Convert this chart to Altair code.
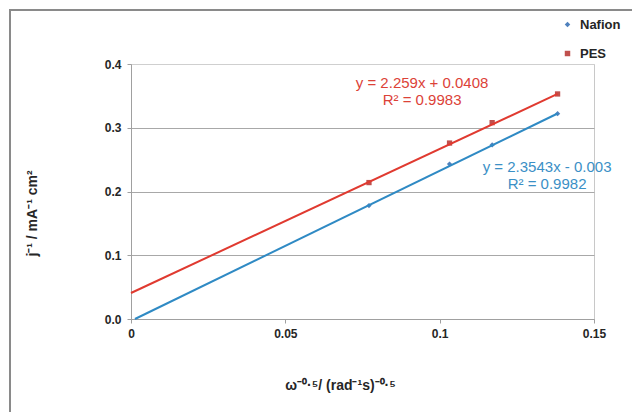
import altair as alt
import pandas as pd

# ---- data ----
series_names = ["Nafion", "PES"]
omega_inv_sqrt = [0.0771, 0.1032, 0.1170, 0.1382]
nafion_inv_j = [0.178, 0.243, 0.273, 0.322]
pes_inv_j = [0.214, 0.276, 0.308, 0.353]
fit_slope = [2.3543, 2.259]
fit_intercept = [-0.003, 0.0408]
fit_r2 = [0.9982, 0.9983]
x_ticks = [0, 0.05, 0.1, 0.15]
y_ticks = [0.0, 0.1, 0.2, 0.3, 0.4]

# ---- tables ----
points = pd.DataFrame({
    "x": omega_inv_sqrt + omega_inv_sqrt,
    "y": nafion_inv_j + pes_inv_j,
    "series": [series_names[0]] * len(nafion_inv_j) + [series_names[1]] * len(pes_inv_j),
})

trend_rows = []
for name, m, b in zip(series_names, fit_slope, fit_intercept):
    x0 = max(0.0, -b / m)
    x1 = max(omega_inv_sqrt)
    trend_rows.append({"series": name, "x": x0, "y": m * x0 + b})
    trend_rows.append({"series": name, "x": x1, "y": m * x1 + b})
trend = pd.DataFrame(trend_rows)


def eq_text(m, b):
    sign = "+" if b >= 0 else "-"
    return f"y = {m}x {sign} {abs(b)}"


# annotation anchors (data units) where the equation labels sit
label_anchor_x = {"Nafion": 0.1348, "PES": 0.0943}
label_anchor_y = {"Nafion": 0.2384, "PES": 0.370}
labels = pd.DataFrame({
    "series": series_names,
    "eq": [eq_text(m, b) for m, b in zip(fit_slope, fit_intercept)],
    "r2": [f"R\u00b2 = {r}" for r in fit_r2],
    "ax": [label_anchor_x[s] for s in series_names],
    "ay": [label_anchor_y[s] for s in series_names],
})

FONT = "Liberation Sans"
marker_colors = ["#4f81bd", "#c0504d"]
trend_colors = {"Nafion": "#2f8ac4", "PES": "#e03a30"}
text_colors = {"Nafion": "#3b90c6", "PES": "#dc4238"}

xscale = alt.Scale(domain=[0, 0.15], nice=False, zero=False)
yscale = alt.Scale(domain=[0, 0.4], nice=False, zero=False)

x_axis = alt.Axis(
    values=x_ticks, format="~g", grid=False, labelFlush=False,
    title="\u03c9\u207b\u2070\u00b7\u2075/ (rad\u207b\u00b9s)\u207b\u2070\u00b7\u2075",
    titleX=209, titleY=66, titleAlign="center", titleBaseline="middle",
    titleFont=FONT, titleFontSize=14, titleFontWeight="bold", titleColor="#262626",
    labelFont=FONT, labelFontSize=12, labelFontWeight="bold", labelColor="#262626",
    labelPadding=5, tickSize=4, tickColor="#a0a0a0", domainColor="#a0a0a0",
)
y_axis = alt.Axis(
    values=y_ticks, format=".1f", grid=True, labelFlush=False,
    gridColor={"condition": {"test": "datum.value > 0.35", "value": "#cfcfcf"}, "value": "#a8a8a8"},
    title="j\u207b\u00b9 / mA\u207b\u00b9 cm\u00b2",
    titleX=-99, titleY=149, titleAngle=-90, titleAlign="center", titleBaseline="middle",
    titleFont=FONT, titleFontSize=14, titleFontWeight="bold", titleColor="#262626",
    labelFont=FONT, labelFontSize=12, labelFontWeight="bold", labelColor="#262626",
    labelPadding=6, tickSize=4, tickColor="#a0a0a0", domainColor="#a0a0a0",
)

one_row = alt.Data(values=[{"f": 1}])
frame_top = alt.Chart(one_row).mark_rule(stroke="#8a8a8a", strokeWidth=2).encode(
    x=alt.value(-122), x2=alt.value(600), y=alt.value(-54),
)
frame_left = alt.Chart(one_row).mark_rule(stroke="#8a8a8a", strokeWidth=2).encode(
    x=alt.value(-121), y=alt.value(-55), y2=alt.value(420),
)

pts = alt.Chart(points).mark_point(filled=True, size=28, opacity=1).encode(
    x=alt.X("x:Q", scale=xscale, axis=x_axis),
    y=alt.Y("y:Q", scale=yscale, axis=y_axis),
    color=alt.Color("series:N", scale=alt.Scale(domain=series_names, range=marker_colors),
                    legend=alt.Legend(title=None, orient="none", legendX=430, legendY=-46,
                                      labelFont=FONT, labelFontSize=13, labelFontWeight="bold",
                                      labelColor="#262626", symbolSize=30, rowPadding=15,
                                      labelOffset=6)),
    shape=alt.Shape("series:N", scale=alt.Scale(domain=series_names, range=["diamond", "square"]),
                    legend=None),
)

lines = []
for name in series_names:
    lines.append(
        alt.Chart(trend).transform_filter(alt.datum.series == name)
        .mark_line(strokeWidth=2, color=trend_colors[name])
        .encode(x=alt.X("x:Q", scale=xscale), y=alt.Y("y:Q", scale=yscale))
    )

texts = []
for name in series_names:
    base = alt.Chart(labels).transform_filter(alt.datum.series == name)
    texts.append(base.mark_text(font=FONT, fontSize=15, color=text_colors[name],
                                align="center", baseline="middle")
                 .encode(x=alt.X("ax:Q", scale=xscale), y=alt.Y("ay:Q", scale=yscale), text="eq:N"))
    texts.append(base.mark_text(font=FONT, fontSize=15, color=text_colors[name],
                                align="center", baseline="middle", dy=17)
                 .encode(x=alt.X("ax:Q", scale=xscale), y=alt.Y("ay:Q", scale=yscale), text="r2:N"))

chart = alt.layer(frame_top, frame_left, pts, *lines, *texts).properties(
    width=463, height=255,
    padding={"left": 123, "top": 56, "right": 38, "bottom": 93},
    autosize=alt.AutoSizeParams(type="none"),
    background="white",
).configure_view(stroke="#c8c8c8", strokeWidth=1)

chart.save("out.html", embed_options={"renderer": "svg", "actions": False})
